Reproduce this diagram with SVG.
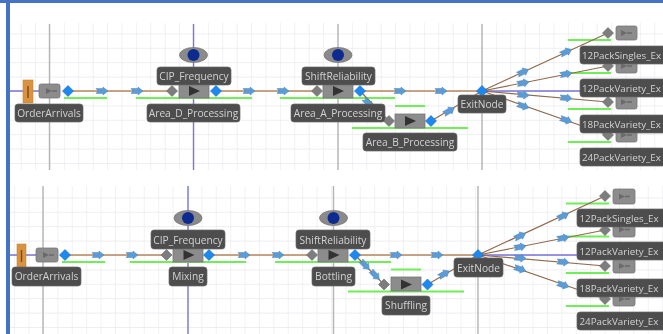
<svg xmlns="http://www.w3.org/2000/svg" width="663" height="334" viewBox="0 0 663 334">
<style>
text{font-family:"Open Sans","Noto Sans","Liberation Sans",sans-serif;font-size:10.2px;fill:#d2d2d2;text-anchor:middle}
text.ex{font-size:9.8px;text-anchor:start}
.lb{fill:#4e4e4e;stroke:#6a6a6a;stroke-width:.7}
.box{fill:#8c8c8c;stroke:#777;stroke-width:.8}
.gd{fill:#7d7d7d;stroke:#666;stroke-width:.6}
.bd{fill:#1e88f0;stroke:#1468c0;stroke-width:.6}
.flow{fill:none;stroke:#b8875f;stroke-width:1.5}
.dflow{fill:none;stroke:#8f6a4e;stroke-width:1.2}
.green{stroke:#6fee58;stroke-width:2;fill:none}
.guide{stroke:#b4b4b4;stroke-width:1.4;fill:none}
.pguide{stroke:#7a74d6;stroke-width:1.4;fill:none}
.ar{fill:#5b9bd5;stroke:#4a86bd;stroke-width:.5}
.eye{fill:#8a8a8a;stroke:#777;stroke-width:.8}
.pupil{fill:#0a2a90}
.org{fill:#d9923f;stroke:#c78433;stroke-width:.6}
.tri{fill:#333}
.small{fill:#6b6b6b}
</style>
<defs>
<filter id="soft" x="0" y="0" width="100%" height="100%"><feGaussianBlur stdDeviation="0.4"/></filter>
<pattern id="g1" patternUnits="userSpaceOnUse" x="49.5" y="91" width="14.4" height="14.4"><path d="M0 0V14.4M0 0H14.4" stroke="#e9e9ee" stroke-width="1.2" fill="none"/></pattern>
<pattern id="g2" patternUnits="userSpaceOnUse" x="43" y="255" width="14.4" height="14.4"><path d="M0 0V14.4M0 0H14.4" stroke="#e9e9ee" stroke-width="1.2" fill="none"/></pattern>
<path id="a" class="ar" d="M-6 -2.500H1V-4L6 0L1 4V2.500H-6L-4 0Z"/>
<path id="d" d="M0 -5.500L5.500 0L0 5.500L-5.500 0Z"/>
<g id="mini"><path class="small" d="M-5 -3L1 0L-5 3Z"/><path d="M1 0H6" stroke="#6b6b6b" stroke-width="1.600"/></g>
</defs>
<rect width="663" height="334" fill="#fff"/>
<g filter="url(#soft)">
<g id="backdrop">
<rect x="10" y="23" width="653" height="147" fill="url(#g1)"/>
<rect x="10" y="186" width="653" height="148" fill="url(#g2)"/>
<path class="guide" d="M49.500 24V170M338 24V170M482 24V170M43 186V334M333.500 186V334M478 186V334"/>
<path class="pguide" d="M193.500 24V170M188 186V334M10 91H39M10 255H36M482 91H580M478 255H577"/>
<path class="green" d="M64 98H107M136 98H252M280 98H395M395 106H425M352 128H468M568 40H611M568 73H611M568 109H611M568 142H611"/>
<path class="green" d="M62 262H105M130 262H246M275 262H391M391 269.500H421M348 291.500H464M566 203.500H609M566 236.500H609M566 273H609M566 306H609"/>
</g>
<g id="connectors">
<path class="flow" d="M68 91H172M216 91H317M360 91H482"/>
<path class="dflow" d="M360 91L389 121M431 121L482 91M482 91L608 33M482 91L608 66M482 91L608 102M482 91L608 135"/>
<path class="flow" d="M65 255H166M209 255H312M355 255H478"/>
<path class="dflow" d="M355 255L384 284.500M427.500 284.500L478 255M478 255L605 196M478 255L605 230M478 255L605 266M478 255L605 299"/>
<use href="#a" x="102" y="91"/><use href="#a" x="137" y="91"/><use href="#a" x="249" y="91"/><use href="#a" x="283" y="91"/><use href="#a" x="400" y="91"/><use href="#a" x="441" y="91"/>
<use href="#a" transform="translate(368 103) rotate(46)"/><use href="#a" transform="translate(378 112) rotate(46)"/>
<use href="#a" transform="translate(449 111) rotate(-31)"/>
<use href="#a" transform="translate(523 72) rotate(-25)"/><use href="#a" transform="translate(566 52) rotate(-25)"/>
<use href="#a" transform="translate(523 83) rotate(-10)"/><use href="#a" transform="translate(566 74) rotate(-10)"/>
<use href="#a" transform="translate(523 95) rotate(5)"/><use href="#a" transform="translate(566 98) rotate(5)"/>
<use href="#a" transform="translate(523 106) rotate(19)"/><use href="#a" transform="translate(566 120) rotate(19)"/>
<use href="#a" x="98" y="255"/><use href="#a" x="132" y="255"/><use href="#a" x="244" y="255"/><use href="#a" x="278" y="255"/><use href="#a" x="396" y="255"/><use href="#a" x="437" y="255"/>
<use href="#a" transform="translate(365 265) rotate(46)"/><use href="#a" transform="translate(375 275) rotate(46)"/>
<use href="#a" transform="translate(444 274) rotate(-30)"/>
<use href="#a" transform="translate(520 236) rotate(-25)"/><use href="#a" transform="translate(563 216) rotate(-25)"/>
<use href="#a" transform="translate(520 247) rotate(-10)"/><use href="#a" transform="translate(563 238) rotate(-10)"/>
<use href="#a" transform="translate(520 258) rotate(5)"/><use href="#a" transform="translate(563 262) rotate(5)"/>
<use href="#a" transform="translate(520 269) rotate(19)"/><use href="#a" transform="translate(563 285) rotate(19)"/>
</g>
<g id="top-OrderArrivals"><rect class="org" x="23" y="80" width="10" height="23"/><path d="M28 86V98" stroke="#7a4a18" stroke-width="1.400"/><rect class="box" x="39" y="84" width="21" height="14" rx="2"/><use href="#mini" x="51" y="91"/><use href="#d" class="bd" x="68" y="91"/><rect class="lb" x="15" y="104" width="68" height="18" rx="3"/><text x="49" y="117">OrderArrivals</text></g>
<g id="top-AreaD"><use href="#d" class="gd" x="172" y="91"/><rect class="box" x="179" y="84" width="30" height="14"/><path class="tri" d="M189 86L200 91L189 96Z"/><use href="#d" class="bd" x="216" y="91"/><rect class="lb" x="147" y="104" width="93" height="18" rx="3"/><text x="193.500" y="117">Area_D_Processing</text></g>
<g id="top-CIP"><ellipse class="eye" cx="193.500" cy="55" rx="14" ry="7.500"/><circle class="pupil" cx="193.500" cy="55" r="6"/><rect class="lb" x="157" y="67" width="74" height="18" rx="3"/><text x="194" y="80">CIP_Frequency</text></g>
<g id="top-AreaB"><use href="#d" class="gd" x="389" y="121"/><rect class="box" x="395" y="114" width="30" height="14"/><path class="tri" d="M405 116L416 121L405 126Z"/><use href="#d" class="bd" x="431" y="121"/><rect class="lb" x="363" y="133" width="94" height="18" rx="3"/><text x="410" y="146">Area_B_Processing</text></g>
<g id="top-AreaA"><use href="#d" class="gd" x="317" y="91"/><rect class="box" x="323" y="84" width="30" height="14"/><path class="tri" d="M333 86L344 91L333 96Z"/><use href="#d" class="bd" x="360" y="91"/><rect class="lb" x="291" y="104" width="94" height="18" rx="3"/><text x="338" y="117">Area_A_Processing</text></g>
<g id="top-Shift"><ellipse class="eye" cx="338" cy="55" rx="14" ry="7.500"/><circle class="pupil" cx="338" cy="55" r="6"/><rect class="lb" x="302" y="67" width="73" height="18" rx="3"/><text x="338.500" y="80">ShiftReliability</text></g>
<g id="top-ExitNode"><use href="#d" class="bd" x="482" y="91"/><rect class="lb" x="458" y="95" width="48" height="18" rx="3"/><text x="482" y="108">ExitNode</text></g>
<g id="top-Exit4"><use href="#d" class="gd" x="608" y="135"/><rect class="box" x="616" y="128" width="21" height="14" rx="2"/><use href="#mini" x="626" y="135"/><rect class="lb" x="580" y="148" width="90" height="18" rx="3"/><text class="ex" x="582" y="161">24PackVariety_Ex</text></g>
<g id="top-Exit3"><use href="#d" class="gd" x="608" y="102"/><rect class="box" x="616" y="95" width="21" height="14" rx="2"/><use href="#mini" x="626" y="102"/><rect class="lb" x="580" y="115" width="90" height="18" rx="3"/><text class="ex" x="582" y="128">18PackVariety_Ex</text></g>
<g id="top-Exit2"><use href="#d" class="gd" x="608" y="66"/><rect class="box" x="616" y="59" width="21" height="14" rx="2"/><use href="#mini" x="626" y="66"/><rect class="lb" x="580" y="79" width="90" height="18" rx="3"/><text class="ex" x="582" y="92">12PackVariety_Ex</text></g>
<g id="top-Exit1"><use href="#d" class="gd" x="608" y="33"/><rect class="box" x="616" y="26" width="21" height="14" rx="2"/><use href="#mini" x="626" y="33"/><rect class="lb" x="580" y="46" width="90" height="18" rx="3"/><text class="ex" x="582" y="59">12PackSingles_Ex</text></g>
<g id="bot-OrderArrivals"><rect class="org" x="17" y="244" width="9" height="23"/><path d="M21.500 250V262" stroke="#7a4a18" stroke-width="1.400"/><rect class="box" x="36" y="248" width="22" height="14" rx="2"/><use href="#mini" x="48" y="255"/><use href="#d" class="bd" x="65" y="255"/><rect class="lb" x="12" y="267" width="69" height="19" rx="3"/><text x="46.500" y="280">OrderArrivals</text></g>
<g id="bot-Mixing"><use href="#d" class="gd" x="166.500" y="255"/><rect class="box" x="173" y="248" width="30" height="14"/><path class="tri" d="M183.500 250L194.500 255L183.500 260Z"/><use href="#d" class="bd" x="209" y="255"/><rect class="lb" x="169" y="267" width="38" height="19" rx="3"/><text x="188" y="280">Mixing</text></g>
<g id="bot-CIP"><ellipse class="eye" cx="188" cy="218" rx="14" ry="7.500"/><circle class="pupil" cx="188" cy="218" r="6"/><rect class="lb" x="151" y="230" width="74" height="19" rx="3"/><text x="188" y="244">CIP_Frequency</text></g>
<g id="bot-Bottling"><use href="#d" class="gd" x="312" y="255"/><rect class="box" x="318" y="248" width="30" height="14"/><path class="tri" d="M328.500 250L339.500 255L328.500 260Z"/><use href="#d" class="bd" x="355" y="255"/><rect class="lb" x="312" y="267" width="43" height="19" rx="3"/><text x="333.500" y="280">Bottling</text></g>
<g id="bot-Shift"><ellipse class="eye" cx="333.500" cy="218" rx="14" ry="7.500"/><circle class="pupil" cx="333.500" cy="218" r="6"/><rect class="lb" x="296" y="230" width="74" height="19" rx="3"/><text x="333" y="244">ShiftReliability</text></g>
<g id="bot-Shuffling"><use href="#d" class="gd" x="384" y="284.500"/><rect class="box" x="391" y="277" width="30" height="14"/><path class="tri" d="M401 279.500L412 284.500L401 289.500Z"/><use href="#d" class="bd" x="427.500" y="284.500"/><rect class="lb" x="382" y="296" width="48" height="19" rx="3"/><text x="406" y="309">Shuffling</text></g>
<g id="bot-ExitNode"><use href="#d" class="bd" x="478" y="255"/><rect class="lb" x="454" y="258" width="49" height="19" rx="3"/><text x="478.500" y="272">ExitNode</text></g>
<g id="bot-Exit4"><use href="#d" class="gd" x="605" y="299"/><rect class="box" x="613" y="292" width="22" height="14" rx="2"/><use href="#mini" x="624" y="299"/><rect class="lb" x="577" y="312" width="93" height="18" rx="3"/><text class="ex" x="579.500" y="325">24PackVariety_Ex</text></g>
<g id="bot-Exit3"><use href="#d" class="gd" x="605" y="266"/><rect class="box" x="613" y="259" width="22" height="14" rx="2"/><use href="#mini" x="624" y="266"/><rect class="lb" x="577" y="279" width="93" height="18" rx="3"/><text class="ex" x="579.500" y="292">18PackVariety_Ex</text></g>
<g id="bot-Exit2"><use href="#d" class="gd" x="605" y="230"/><rect class="box" x="613" y="222" width="22" height="15" rx="2"/><use href="#mini" x="624" y="229.500"/><rect class="lb" x="577" y="242" width="93" height="18" rx="3"/><text class="ex" x="579.500" y="255">12PackVariety_Ex</text></g>
<g id="bot-Exit1"><use href="#d" class="gd" x="605" y="196"/><rect class="box" x="613" y="189" width="22" height="15" rx="2"/><use href="#mini" x="624" y="196.500"/><rect class="lb" x="577" y="209" width="93" height="18" rx="3"/><text class="ex" x="579.500" y="222">12PackSingles_Ex</text></g>
</g>
<g id="frame"><rect x="0" y="0" width="663" height="3" fill="#4472c4"/><rect x="6" y="0" width="4" height="334" fill="#4472c4"/></g>
</svg>
